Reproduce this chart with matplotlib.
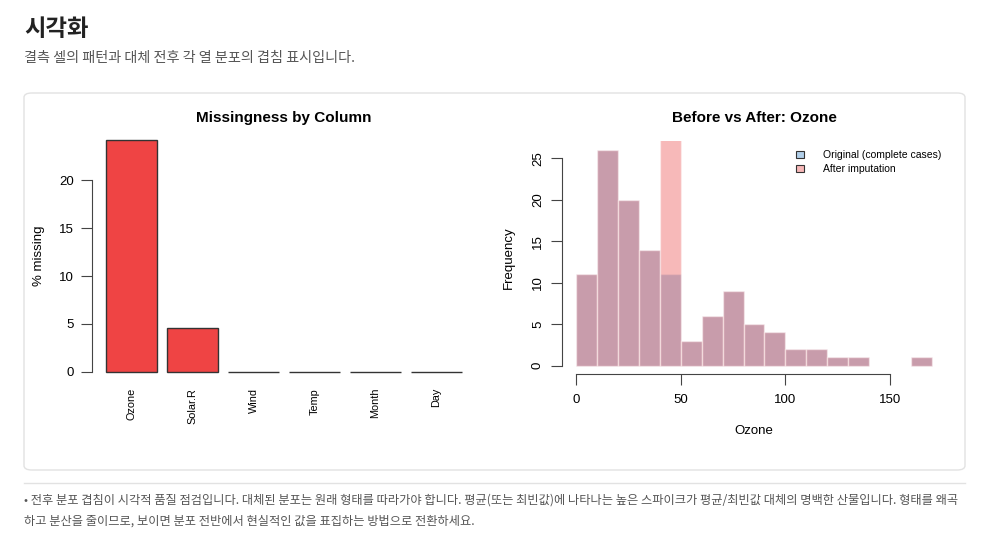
import numpy as np
import matplotlib
matplotlib.use("Agg")
import matplotlib.pyplot as plt
from matplotlib.patches import FancyBboxPatch, Patch
from matplotlib.lines import Line2D

plt.rcParams['font.family'] = ['Liberation Sans', 'Noto Sans CJK KR', 'DejaVu Sans']

# missingness per column (%)
columns = ['Ozone', 'Solar.R', 'Wind', 'Temp', 'Month', 'Day']
pct_missing = [24.18, 4.58, 0, 0, 0, 0]

# ozone histogram, bins of 10 from 0 to 170
bin_edges = list(range(0, 180, 10))
counts_original = [11, 26, 20, 14, 11, 3, 6, 9, 5, 4, 2, 2, 1, 1, 0, 0, 1]
counts_after = [11, 26, 20, 14, 48, 3, 6, 9, 5, 4, 2, 2, 1, 1, 0, 0, 1]

W, H = 988, 552
fig = plt.figure(figsize=(W / 100, H / 100), dpi=100)

def fx(px):
    return px / W

def fy(py):
    return 1 - py / H

def add_ax(x0, y0, x1, y1):
    return fig.add_axes([fx(x0), fy(y1), fx(x1 - x0), (y1 - y0) / H])

korean = ['Noto Sans CJK KR', 'DejaVu Sans']

# header
fig.text(fx(24), fy(29), '시각화', fontsize=16.8, fontweight='bold', family=korean,
         color='#222222', va='center', ha='left')
fig.text(fx(24), fy(58), '결측 셀의 패턴과 대체 전후 각 열 분포의 겹침 표시입니다.',
         fontsize=10.2, family=korean, color='#555555', va='center', ha='left')

# card
card = FancyBboxPatch((fx(24), fy(470)), fx(965 - 24), (470 - 93) / H,
                      boxstyle='round,pad=0,rounding_size=0.008',
                      transform=fig.transFigure, facecolor='none',
                      edgecolor='#e2e2e2', linewidth=1, zorder=-1)
fig.patches.append(card)
fig.lines.append(Line2D([fx(24), fx(965)], [fy(483), fy(483)],
                        transform=fig.transFigure, color='#e2e2e2', linewidth=1))

# footer
fig.text(fx(24), fy(500),
         '• 전후 분포 겹침이 시각적 품질 점검입니다. 대체된 분포는 원래 형태를 따라가야 합니다. '
         '평균(또는 최빈값)에 나타나는 높은 스파이크가 평균/최빈값 대체의 명백한 산물입니다. 형태를 왜곡',
         fontsize=8.8, family=korean, color='#555555', va='center', ha='left')
fig.text(fx(24), fy(521),
         '하고 분산을 줄이므로, 보이면 분포 전반에서 현실적인 값을 표집하는 방법으로 전환하세요.',
         fontsize=8.8, family=korean, color='#555555', va='center', ha='left')

# ---- left: missingness barplot
ax0 = add_ax(92, 131, 476, 381)
xpos = 0.7 + 1.2 * np.arange(len(columns))
ax0.bar(xpos, pct_missing, width=1, color='#EF4444', edgecolor='#333333', linewidth=1)
ax0.set_xlim(-0.08, 7.48)
ax0.set_ylim(-0.967, 25.15)
for s in ['top', 'right', 'bottom']:
    ax0.spines[s].set_visible(False)
ax0.spines['left'].set_bounds(0, 20)
ax0.spines['left'].set_color('#444444')
ax0.set_yticks([0, 5, 10, 15, 20])
ax0.tick_params(axis='y', length=8, width=0.8, color='#444444', labelsize=9.5, pad=5)
ax0.set_xticks(xpos)
ax0.set_xticklabels(columns, rotation=90, fontsize=7.8, va='top')
ax0.tick_params(axis='x', length=0, pad=5)
ax0.set_ylabel('% missing', fontsize=9.5, labelpad=10)
fig.text(fx(284), fy(118), 'Missingness by Column', fontsize=11, fontweight='bold',
         ha='center', va='center')

# ---- right: before vs after histogram
ax1 = add_ax(562, 141.4, 946, 374.3)
ax1.bar(bin_edges[:-1], counts_original, width=10, align='edge',
        color='#3C89C8', alpha=0.4, edgecolor='white', linewidth=1)
ax1.bar(bin_edges[:-1], counts_after, width=10, align='edge',
        color='#ED5050', alpha=0.4, edgecolor='white', linewidth=1)
ax1.set_xlim(-6.8, 176.8)
ax1.set_ylim(-1.04, 27.04)
for s in ['top', 'right']:
    ax1.spines[s].set_visible(False)
ax1.spines['left'].set_bounds(0, 25)
ax1.spines['bottom'].set_bounds(0, 150)
for s in ['left', 'bottom']:
    ax1.spines[s].set_color('#444444')
ax1.set_yticks([0, 5, 10, 15, 20, 25])
ax1.set_xticks([0, 50, 100, 150])
ax1.tick_params(axis='y', length=8, width=0.8, color='#444444', labelsize=9.5,
                labelrotation=90, pad=5)
for lab in ax1.get_yticklabels():
    lab.set_va('center')
ax1.tick_params(axis='x', length=8, width=0.8, color='#444444', labelsize=9.5, pad=6)
ax1.set_ylabel('Frequency', fontsize=9.5, labelpad=12)
ax1.set_xlabel('Ozone', fontsize=9.5, labelpad=14)
fig.text(fx(754), fy(118), 'Before vs After: Ozone', fontsize=11, fontweight='bold',
         ha='center', va='center')

handles = [Patch(facecolor=(0.235, 0.537, 0.784, 0.4), edgecolor='#333333', linewidth=0.8),
           Patch(facecolor=(0.93, 0.31, 0.31, 0.4), edgecolor='#333333', linewidth=0.8)]
ax1.legend(handles, ['Original (complete cases)', 'After imputation'],
           loc='upper right', bbox_to_anchor=(fx(946), fy(146)),
           bbox_transform=fig.transFigure, frameon=False, fontsize=7.5,
           handlelength=0.7, handleheight=0.7, handletextpad=1.9,
           labelspacing=0.35, borderaxespad=0)

fig.savefig('out.png', dpi=100, facecolor='white')
